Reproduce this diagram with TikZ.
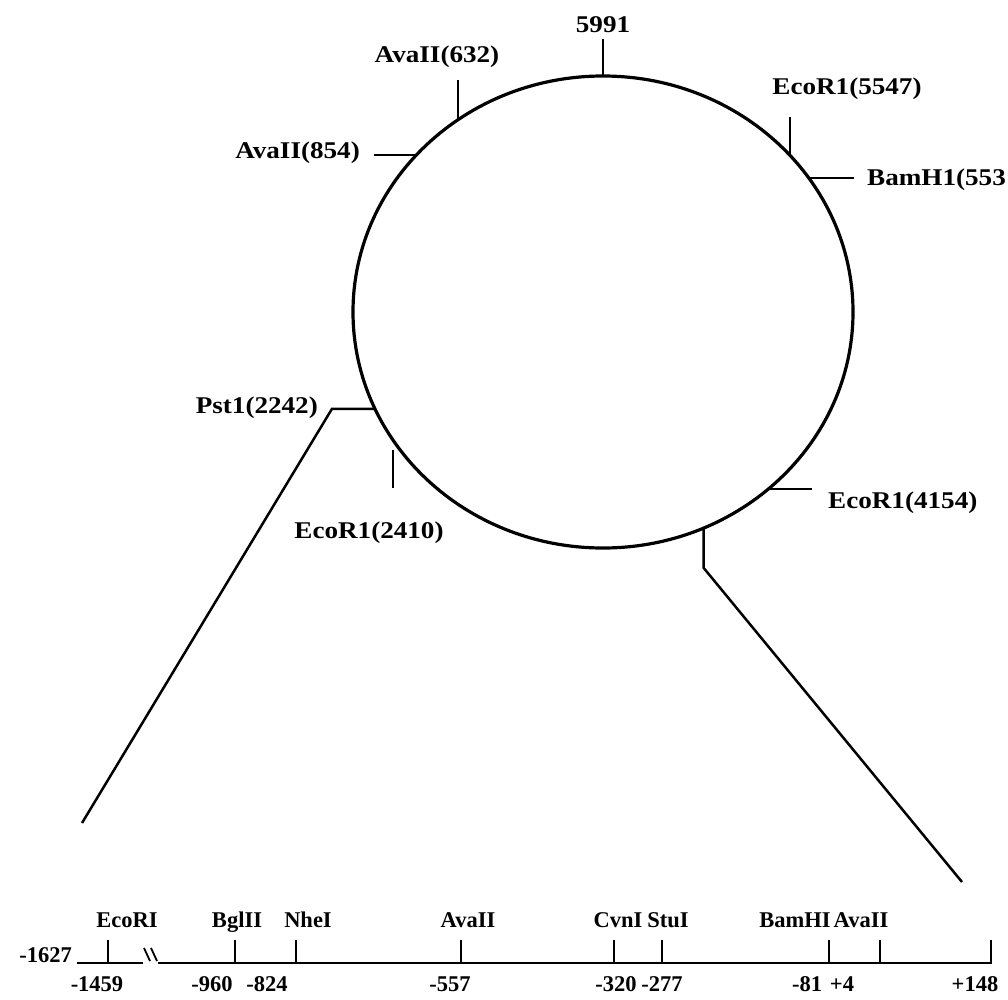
\documentclass[tikz,border=0pt]{standalone}
\usepackage{fontspec}
\setmainfont{Liberation Serif}[FakeStretch=1.13]
\newfontfamily\linfont{Liberation Serif}
\usetikzlibrary{shapes.geometric,calc}
\begin{document}
\begin{tikzpicture}[x=1pt,y=-1pt,
  lab/.style={font=\fontsize{24}{28}\selectfont\bfseries, inner sep=0pt},
  llab/.style={font=\linfont\fontsize{22.5}{26}\selectfont\bfseries, inner sep=0pt},
  tick/.style={line width=2.2pt},
  conn/.style={line width=2.5pt, line join=miter},
  dna/.style={line width=2.8pt},
  brk/.style={line width=1.8pt}]
\useasboundingbox (0,0) rectangle (1008,999);
\clip (0,0) rectangle (1008,999);
% plasmid
\node[ellipse, draw, line width=3.2pt, minimum width=500pt, minimum height=472pt, inner sep=0pt, outer sep=0pt] (pl) at (603,312) {};
% 5991
\coordinate (t5991) at ($(pl.90)+(0,-37)$);
\draw[tick] (pl.90) -- (t5991);
\node[lab, anchor=base] (l5991) at (603,32) {5991};
% AvaII(632)
\coordinate (t632) at ($(pl.127)+(0,-40)$);
\draw[tick] (pl.127) -- (t632);
\node[lab, anchor=base] (l632) at (437,62) {AvaII(632)};
% AvaII(854)
\coordinate (t854) at ($(pl.140.4)+(-42,0)$);
\draw[tick] (pl.140.4) -- (t854);
\node[lab, anchor=base east] (l854) at (360,158) {AvaII(854)};
% EcoR1(5547)
\coordinate (t5547) at ($(pl.40)+(0,-38)$);
\draw[tick] (pl.40) -- (t5547);
\node[lab, anchor=base] (l5547) at (847,94) {EcoR1(5547)};
% BamH1(553
\coordinate (t553) at ($(pl.33.6)+(45,0)$);
\draw[tick] (pl.33.6) -- (t553);
\node[lab, anchor=base west] (l553) at (867,185) {BamH1(553};
% Pst1(2242)
\coordinate (p1) at ($(pl.203.1)+(-43,0)$);
\coordinate (pend) at (82,823);
\draw[conn] (pl.203.1) -- (p1) -- (pend);
\node[lab, anchor=base east] (l2242) at (318,413) {Pst1(2242)};
% EcoR1(2410)
\coordinate (e2410a) at (393,450);
\coordinate (e2410b) at (393,488);
\draw[tick] (e2410a) -- (e2410b);
\node[lab, anchor=base] (l2410) at (369,538) {EcoR1(2410)};
% EcoR1(4154)
\coordinate (t4154) at ($(pl.313.2)+(44,0)$);
\draw[tick] (pl.313.2) -- (t4154);
\node[lab, anchor=base west] (l4154) at (828,508) {EcoR1(4154)};
% lower right connector
\coordinate (q1) at ($(pl.295.6)+(0,40)$);
\coordinate (qend) at (962,882);
\draw[conn] (pl.295.6) -- (q1) -- (qend);
% linear map
\coordinate (L0) at (77,963);
\coordinate (L1) at (143,963);
\coordinate (M0) at (158,963);
\coordinate (M1) at (992,963);
\draw[dna] (L0) -- (L1);
\draw[dna] (M0) -- (M1);
\draw[brk] (144,948) -- (150,961);
\draw[brk] (151,948) -- (157,961);
\foreach \x/\n in {108/a,235/b,296/c,461/d,614/e,662/f,829/g,880/h,991/i}{
  \coordinate (tk\n) at (\x,940);
  \coordinate (bs\n) at (\x,963);
  \draw[tick] (tk\n) -- (bs\n);
}
\node[llab, anchor=base east] (m1627) at (72,962) {-1627};
\foreach \x/\t/\n in {127/EcoRI/a,237/BglII/b,308/NheI/c,468/AvaII/d,618/CvnI/e,668/StuI/f,795/BamHI/g,861/AvaII/h}{
  \node[llab, anchor=base] (en\n) at (\x,927) {\t};
}
\foreach \x/\t/\n in {97/-1459/a,212/-960/b,267/-824/c,450/-557/d,616/-320/e,662/-277/f,807/-81/g,842/+4/h,975/+148/i}{
  \node[llab, anchor=base] (nm\n) at (\x,991) {\t};
}
\end{tikzpicture}
\end{document}
